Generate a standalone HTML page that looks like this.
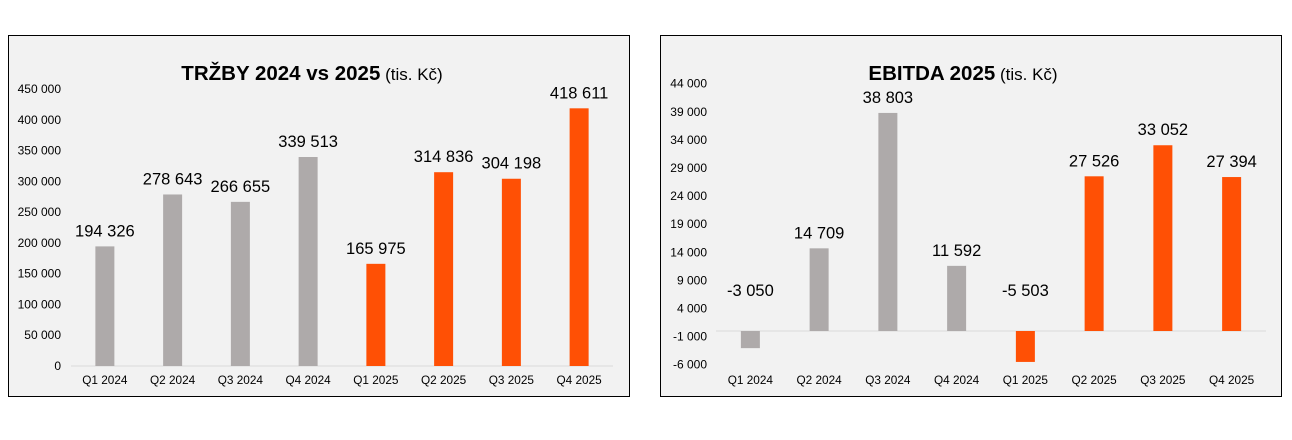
<!DOCTYPE html>
<html><head><meta charset="utf-8"><style>
body{margin:0;background:#fff;width:1292px;height:435px;overflow:hidden;font-family:"Liberation Sans",Arial,sans-serif}
svg text{font-family:"Liberation Sans",Arial,sans-serif}
</style></head><body>
<svg id="s" width="1292" height="435">
<rect x="8.5" y="35.5" width="621" height="361" fill="#f2f2f2" stroke="#000"/>
<rect x="660.5" y="35.5" width="621" height="361" fill="#f2f2f2" stroke="#000"/>
<text x="312" y="80" text-anchor="middle"><tspan font-weight="bold" font-size="20.5">TRŽBY 2024 vs 2025</tspan><tspan font-size="17"> (tis. Kč)</tspan></text>
<text x="963" y="80" text-anchor="middle"><tspan font-weight="bold" font-size="20.5">EBITDA 2025</tspan><tspan font-size="17"> (tis. Kč)</tspan></text>
</svg>
<script>
const categories=["Q1 2024","Q2 2024","Q3 2024","Q4 2024","Q1 2025","Q2 2025","Q3 2025","Q4 2025"];
const salesValues=[194326,278643,266655,339513,165975,314836,304198,418611];
const salesTicks=[0,50000,100000,150000,200000,250000,300000,350000,400000,450000];
const ebitdaValues=[-3050,14709,38803,11592,-5503,27526,33052,27394];
const ebitdaTicks=[-6000,-1000,4000,9000,14000,19000,24000,29000,34000,39000,44000];
const svg=document.getElementById('s');const NS='http://www.w3.org/2000/svg';
function fmt(v){const s=Math.abs(v).toString().replace(/\B(?=(\d{3})+(?!\d))/g,' ');return (v<0?'-':'')+s;}
function mk(tag,attrs,txt){const e=document.createElementNS(NS,tag);for(const k in attrs)e.setAttribute(k,attrs[k]);if(txt!==undefined)e.textContent=txt;svg.appendChild(e);return e;}
function draw(cfg){
  const y=v=>cfg.y0-(v-cfg.base)*cfg.scale;
  cfg.ticks.forEach(t=>{const e=mk('text',{x:cfg.tickX,y:y(t)+4,'text-anchor':'end','font-size':'12',fill:'#000'},fmt(t));
    
    });
  const ax=mk('line',{x1:cfg.x0,x2:cfg.x1,y1:y(0),y2:y(0),stroke:'#d9d9d9','stroke-width':1});
  
  
  const band=(cfg.x1-cfg.x0)/categories.length;
  cfg.values.forEach((v,i)=>{
    const cx=cfg.x0+band*(i+0.5);
    const top=Math.min(y(v),y(0)),h=Math.abs(y(v)-y(0));
    const b=mk('rect',{x:cx-9.5,y:top,width:19,height:h,fill:i<4?'#aeaaaa':'#ff5005'});
    
    
    const ly=v>=0?y(v)-10:y(0)-35;
    const l=mk('text',{x:cx,y:ly,'text-anchor':'middle','font-size':'16.5',fill:'#000'},fmt(v));
    
    
    const c=mk('text',{x:cx,y:cfg.catY,'text-anchor':'middle','font-size':'11.8',fill:'#000'},categories[i]);
    
    
  });
}
draw({values:salesValues,ticks:salesTicks,base:0,y0:366,scale:277/450000,x0:71,x1:613,tickX:61,catY:384});
draw({values:ebitdaValues,ticks:ebitdaTicks,base:0,y0:331,scale:0.00562,x0:716,x1:1266,tickX:707,catY:384});
</script>
</body></html>
